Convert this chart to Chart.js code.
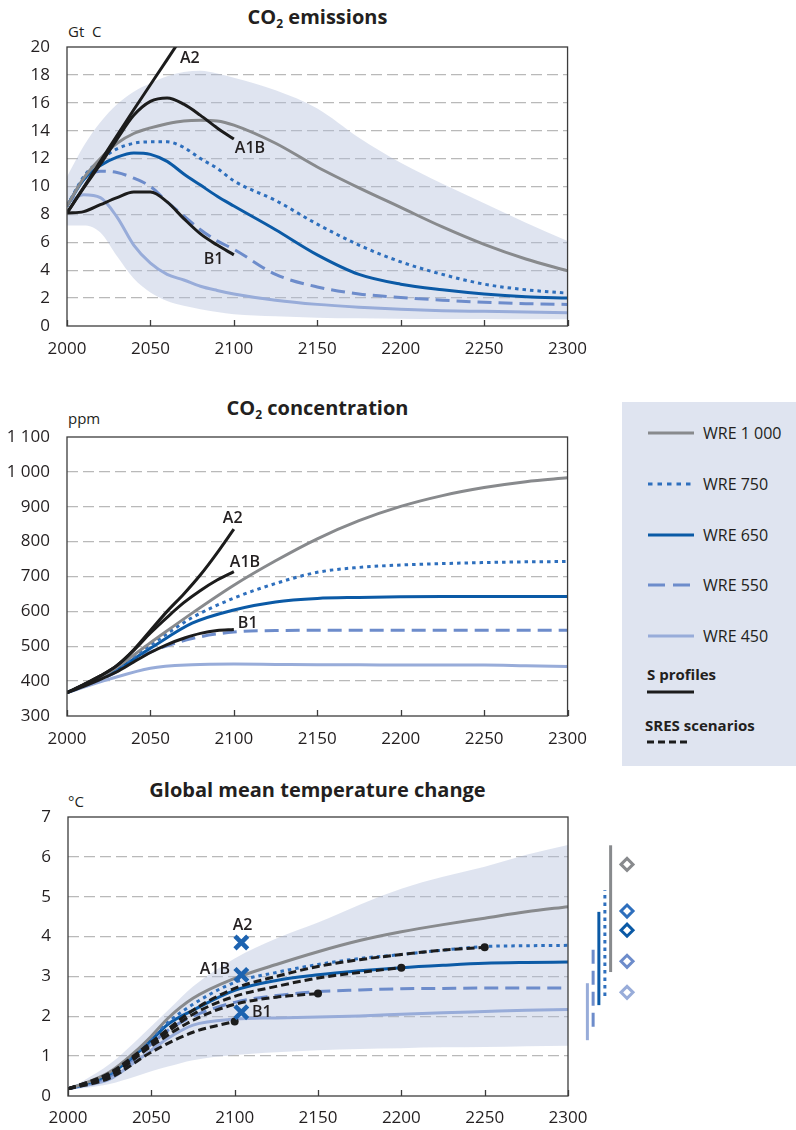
<!DOCTYPE html>
<html>
<head>
<meta charset="utf-8">
<script src="https://cdn.jsdelivr.net/npm/chart.js@4.4.1/dist/chart.umd.min.js"></script>
<style>
body { margin: 0; background: #fff; font-family: 'Open Sans', sans-serif; color: #231f20; }
#page { position: relative; width: 796px; height: 1130px; overflow: hidden; }
canvas { position: absolute; left: 0; }
.title { position: absolute; left: 67px; width: 501px; text-align: center; font-weight: 700; font-size: 20px; line-height: 24px; }
.title sub { font-size: 12px; vertical-align: -4px; line-height: 0; }
.unit { position: absolute; left: 68px; font-size: 15px; line-height: 18px; }
#legend { position: absolute; left: 622px; top: 402px; width: 174px; height: 364px; background: #dfe4f0; }
#legend .row { position: absolute; left: 26px; height: 20px; display: flex; align-items: center; font-size: 16px; }
#legend .row span { margin-left: 9px; }
#legend .head { position: absolute; font-size: 15px; font-weight: 700; line-height: 20px; }
#legend svg { display: block; }
</style>
</head>
<body>
<div id="page">
  <div class="title" style="top:5px">CO<sub>2</sub> emissions</div>
  <div class="unit" style="top:22px">Gt&nbsp; C</div>
  <canvas id="emis" width="600" height="348" style="top:17px"></canvas>

  <div class="title" style="top:396px">CO<sub>2</sub> concentration</div>
  <div class="unit" style="top:409px">ppm</div>
  <canvas id="conc" width="600" height="348" style="top:407px"></canvas>

  <div class="title" style="top:778px">Global mean temperature change</div>
  <div class="unit" style="top:792px">°C</div>
  <canvas id="temp" width="600" height="343" style="top:787px"></canvas>
  <canvas id="equil" width="100" height="343" style="top:787px;left:568px"></canvas>

  <div id="legend"></div>
</div>
<script>
// ---- series names (WRE stabilisation profiles) ----
var wreNames = ['WRE 1 000', 'WRE 750', 'WRE 650', 'WRE 550', 'WRE 450'];

// ---- CO2 emissions, Gt C ----
var emisYears = [2000, 2010, 2020, 2030, 2040, 2050, 2060, 2070, 2080, 2090, 2100, 2125, 2150, 2175, 2200, 2225, 2250, 2275, 2300];
var emisWre1000 = [8.6, 10.6, 12.0, 13.1, 13.8, 14.2, 14.5, 14.7, 14.75, 14.7, 14.4, 13.1, 11.4, 9.9, 8.5, 7.1, 5.85, 4.8, 3.95];
var emisWre750 = [8.6, 10.7, 11.9, 12.7, 13.1, 13.2, 13.2, 12.8, 12.0, 11.3, 10.4, 9.0, 7.3, 5.8, 4.6, 3.7, 3.0, 2.6, 2.35];
var emisWre650 = [8.6, 10.5, 11.5, 12.1, 12.4, 12.3, 11.8, 10.9, 10.1, 9.3, 8.6, 6.9, 5.1, 3.7, 3.0, 2.6, 2.3, 2.1, 2.0];
var emisWre550 = [8.6, 10.5, 11.1, 11.0, 10.6, 10.0, 8.9, 7.9, 6.9, 6.1, 5.5, 3.7, 2.8, 2.3, 2.05, 1.85, 1.7, 1.6, 1.55];
var emisWre450 = [8.8, 9.4, 9.2, 7.8, 5.8, 4.5, 3.7, 3.3, 2.85, 2.55, 2.3, 1.85, 1.55, 1.35, 1.2, 1.1, 1.05, 1.0, 0.95];
var emisBandHigh = [10.7, 12.9, 14.6, 15.9, 16.8, 17.4, 17.9, 18.2, 18.3, 18.1, 17.8, 16.9, 15.6, 13.5, 11.7, 10.2, 8.8, 7.4, 6.1];
var emisBandLow = [7.2, 7.2, 6.7, 5.0, 3.4, 2.4, 1.8, 1.45, 1.2, 1.0, 0.85, 0.7, 0.6, 0.55, 0.52, 0.5, 0.5, 0.48, 0.48];
var emisA2Years = [2000, 2020, 2040, 2060, 2070];
var emisA2 = [8.1, 11.8, 15.5, 19.1, 20.9];
var emisSresYears = [2000, 2010, 2020, 2030, 2040, 2050, 2060, 2070, 2080, 2090, 2100];
var emisA1B = [8.1, 9.9, 11.6, 13.4, 15.1, 16.1, 16.35, 15.9, 15.1, 14.2, 13.4];
var emisB1 = [8.1, 8.2, 8.7, 9.2, 9.6, 9.6, 8.9, 7.7, 6.6, 5.8, 5.1];

// ---- CO2 concentration, ppm ----
var concYears = [2000, 2025, 2050, 2075, 2100, 2125, 2150, 2175, 2200, 2225, 2250, 2275, 2300];
var concWre1000 = [367, 425, 510, 595, 675, 745, 808, 860, 901, 932, 955, 972, 983];
var concWre750 = [367, 422, 503, 582, 638, 680, 712, 726, 733, 737, 740, 742, 743];
var concWre650 = [367, 420, 494, 566, 604, 627, 637, 640, 642, 643, 643, 643, 643];
var concWre550 = [367, 415, 483, 522, 541, 545, 546, 546, 546, 546, 546, 546, 546];
var concWre450 = [367, 405, 437, 447, 449, 448, 447, 447, 446, 446, 446, 444, 442];
var concSresYears = [2000, 2010, 2020, 2030, 2040, 2050, 2060, 2070, 2080, 2090, 2100];
var concA2 = [367, 390, 415, 445, 490, 545, 600, 650, 705, 768, 836];
var concA1B = [367, 390, 415, 445, 488, 538, 583, 625, 660, 690, 714];
var concB1 = [367, 385, 405, 427, 455, 482, 505, 523, 537, 545, 548];

// ---- global mean temperature change, degC ----
var tempYears = [2000, 2010, 2025, 2040, 2050, 2060, 2075, 2100, 2125, 2150, 2175, 2200, 2225, 2250, 2275, 2300];
var tempWre1000 = [0.18, 0.32, 0.6, 1.1, 1.5, 1.95, 2.45, 2.95, 3.3, 3.62, 3.9, 4.12, 4.3, 4.46, 4.62, 4.75];
var tempWre750 = [0.18, 0.3, 0.55, 1.05, 1.45, 1.85, 2.3, 2.85, 3.1, 3.3, 3.45, 3.55, 3.66, 3.75, 3.77, 3.78];
var tempWre650 = [0.18, 0.3, 0.55, 1.02, 1.4, 1.8, 2.15, 2.65, 2.9, 3.04, 3.14, 3.22, 3.28, 3.33, 3.35, 3.36];
var tempWre550 = [0.18, 0.28, 0.5, 0.95, 1.3, 1.65, 2.0, 2.35, 2.52, 2.62, 2.66, 2.69, 2.7, 2.71, 2.71, 2.71];
var tempWre450 = [0.18, 0.26, 0.42, 0.85, 1.15, 1.45, 1.78, 1.93, 1.96, 1.98, 2.01, 2.05, 2.09, 2.12, 2.15, 2.17];
var tempBandHigh = [0.18, 0.4, 0.8, 1.35, 1.75, 2.15, 2.75, 3.45, 3.95, 4.35, 4.8, 5.2, 5.5, 5.75, 6.05, 6.3];
var tempBandLow = [0.15, 0.2, 0.3, 0.48, 0.62, 0.74, 0.9, 1.03, 1.1, 1.15, 1.18, 1.2, 1.22, 1.23, 1.25, 1.26];
var sresYears = [2000, 2025, 2050, 2075, 2100, 2125, 2150, 2175, 2200, 2225, 2250];
var sres450 = [0.18, 0.45, 1.1, 1.6, 1.87];
var sres550 = [0.18, 0.5, 1.25, 1.9, 2.3, 2.48, 2.57];
var sres650 = [0.18, 0.55, 1.3, 2.05, 2.5, 2.75, 2.96, 3.1, 3.22];
var sres750 = [0.18, 0.58, 1.35, 2.15, 2.7, 3.0, 3.25, 3.42, 3.55, 3.66, 3.73];
var sresMarkYear = 2104;
var sresMarkNames = ['A2', 'A1B', 'B1'];
var sresMarkTemp = [3.85, 3.04, 2.1];
// equilibrium ranges and best guesses, on the strip right of 2300
var eqRangeYear = [2324.6, 2320.4, 2316, 2311.8, 2307.6];
var eqRangeLow = [3.11, 2.51, 2.28, 1.74, 1.40];
var eqRangeHigh = [6.29, 5.16, 4.62, 3.71, 2.83];
var eqBestYear = 2336.6;
var eqBest = [5.81, 4.64, 4.16, 3.38, 2.60];

// ---- styles ----
var wreColors = ['#888a8d', '#2e6fbd', '#0b5aa6', '#6d8ccb', '#98acd9'];
var wreDash = [[], [3.5, 4], [], [14, 7], []];
var black = '#1c1c1c';
var bandColor = 'rgba(175,188,218,0.4)';
var markBlue = '#1d63b0';

Chart.defaults.font.family = "'Open Sans', sans-serif";
Chart.defaults.color = '#231f20';

function xy(xs, ys) {
    return ys.map(function(v, i) { return {x: xs[i], y: v}; });
}

function line(label, xs, ys, color, dash, order) {
    return {
        label: label, data: xy(xs, ys),
        borderColor: color, borderWidth: 3, borderDash: dash,
        pointRadius: 0, fill: false, cubicInterpolationMode: 'monotone',
        order: order
    };
}

function band(xs, high, low) {
    return [{
        label: 'band high', data: xy(xs, high), borderColor: 'rgba(0,0,0,0)',
        backgroundColor: bandColor, fill: '+1', pointRadius: 0,
        cubicInterpolationMode: 'monotone', order: 10
    }, {
        label: 'band low', data: xy(xs, low), borderColor: 'rgba(0,0,0,0)',
        fill: false, pointRadius: 0, cubicInterpolationMode: 'monotone', order: 10
    }];
}

function wreLines(xs, series) {
    return series.map(function(ys, i) {
        return line(wreNames[i], xs, ys, wreColors[i], wreDash[i], 1 + i);
    });
}

// frame, inner x tick marks and text labels
var framePlugin = {
    id: 'frame',
    afterDatasetsDraw: function(chart, args, opts) {
        var a = chart.chartArea, ctx = chart.ctx, xs = chart.scales.x, ys = chart.scales.y;
        ctx.save();
        ctx.strokeStyle = '#3c3c3c';
        ctx.lineWidth = 1.3;
        ctx.strokeRect(a.left, a.top, a.right - a.left, a.bottom - a.top);
        xs.ticks.forEach(function(t) {
            var px = Math.round(xs.getPixelForValue(t.value)) + 0.5;
            ctx.beginPath();
            ctx.moveTo(px, a.bottom);
            ctx.lineTo(px, a.bottom - 6);
            ctx.stroke();
        });
        ctx.fillStyle = '#231f20';
        ctx.font = "600 16px 'Open Sans', sans-serif";
        ctx.textBaseline = 'middle';
        (opts.labels || []).forEach(function(l) {
            ctx.textAlign = l.align;
            ctx.fillText(l.text, xs.getPixelForValue(l.x), ys.getPixelForValue(l.y));
        });
        ctx.restore();
    }
};

function options(yMin, yMax, yStep, yWidth, xHeight, xPad, padRight, labels, yFormat) {
    return {
        responsive: false,
        animation: false,
        layout: {padding: {top: 30, right: padRight, left: 0, bottom: 0}},
        plugins: {legend: {display: false}, tooltip: {enabled: false}, frame: {labels: labels}},
        scales: {
            x: {
                type: 'linear', min: 2000, max: 2300,
                grid: {display: false, drawTicks: false},
                border: {display: false},
                ticks: {stepSize: 50, padding: xPad, autoSkip: false, maxRotation: 0,
                        font: {size: 17}, callback: function(v) { return String(v); }},
                afterFit: function(s) { s.height = xHeight; }
            },
            y: {
                min: yMin, max: yMax,
                grid: {
                    drawTicks: false, lineWidth: 1.3,
                    color: function(c) {
                        return (c.tick.value === yMin || c.tick.value === yMax) ? 'rgba(0,0,0,0)' : '#b9b9b9';
                    }
                },
                border: {display: false, dash: [11, 5]},
                ticks: {stepSize: yStep, padding: 17, font: {size: 17},
                        callback: yFormat || function(v) { return String(v); }},
                afterFit: function(s) { s.width = yWidth; }
            }
        }
    };
}

// ---- chart 1: emissions ----
var emisData = [
    line('A2', emisA2Years, emisA2, black, [], 0),
    line('A1B', emisSresYears, emisA1B, black, [], 0),
    line('B1', emisSresYears, emisB1, black, [], 0)
].concat(wreLines(emisYears, [emisWre1000, emisWre750, emisWre650, emisWre550, emisWre450]))
 .concat(band(emisYears, emisBandHigh, emisBandLow));

new Chart(document.getElementById('emis'), {
    type: 'line',
    data: {datasets: emisData},
    options: options(0, 20, 2, 67, 39, 13, 32, [
        {text: 'A2', x: 2067.7, y: 19.2, align: 'left'},
        {text: 'A1B', x: 2100.6, y: 12.7, align: 'left'},
        {text: 'B1', x: 2082, y: 4.75, align: 'left'}
    ]),
    plugins: [framePlugin]
});

// ---- chart 2: concentration ----
var concData = [
    line('A2', concSresYears, concA2, black, [], 0),
    line('A1B', concSresYears, concA1B, black, [], 0),
    line('B1', concSresYears, concB1, black, [], 0)
].concat(wreLines(concYears, [concWre1000, concWre750, concWre650, concWre550, concWre450]));

new Chart(document.getElementById('conc'), {
    type: 'line',
    data: {datasets: concData},
    options: options(300, 1100, 100, 67, 39, 13, 32, [
        {text: 'A2', x: 2093.4, y: 867, align: 'left'},
        {text: 'A1B', x: 2097.6, y: 741, align: 'left'},
        {text: 'B1', x: 2102.4, y: 566, align: 'left'}
    ], function(v) {
        return v >= 1000 ? String(v).replace(/(\d)(\d{3})$/, '$1 $2') : String(v);
    }),
    plugins: [framePlugin]
});

// ---- chart 3: temperature ----
function sresLine(ys) {
    var d = line('SRES', sresYears, ys, black, [8, 4], 0);
    d.pointRadius = function(c) { return c.dataIndex === ys.length - 1 ? 4 : 0; };
    d.pointBackgroundColor = black;
    d.pointBorderWidth = 0;
    return d;
}

var tempData = [{
    label: 'SRES 2100', data: sresMarkTemp.map(function(v) { return {x: sresMarkYear, y: v}; }),
    showLine: false, pointStyle: 'crossRot', pointRadius: 9, borderWidth: 4.5,
    borderColor: markBlue, order: -1
}].concat([sresLine(sres750), sresLine(sres650), sresLine(sres550), sresLine(sres450)])
  .concat(wreLines(tempYears, [tempWre1000, tempWre750, tempWre650, tempWre550, tempWre450]))
  .concat(band(tempYears, tempBandHigh, tempBandLow));

new Chart(document.getElementById('temp'), {
    type: 'line',
    data: {datasets: tempData},
    options: options(0, 7, 1, 68, 34, 12, 32, [
        {text: 'A2', x: 2104.7, y: 4.29, align: 'center'},
        {text: 'A1B', x: 2097.2, y: 3.18, align: 'right'},
        {text: 'B1', x: 2110.4, y: 2.09, align: 'left'}
    ]),
    plugins: [framePlugin]
});

// strip right of the temperature plot: equilibrium range bars and best guesses
var eqData = [];
wreNames.forEach(function(n, i) {
    eqData.push({
        label: n + ' range',
        data: [{x: eqRangeYear[i], y: eqRangeLow[i]}, {x: eqRangeYear[i], y: eqRangeHigh[i]}],
        borderColor: wreColors[i], borderWidth: 3, borderDash: wreDash[i],
        pointRadius: 0
    });
    eqData.push({
        label: n + ' best',
        data: [{x: eqBestYear, y: eqBest[i]}],
        showLine: false, pointStyle: 'rectRot', pointRadius: 6, borderWidth: 3,
        borderColor: wreColors[i], pointBackgroundColor: '#fff'
    });
});

new Chart(document.getElementById('equil'), {
    type: 'line',
    data: {datasets: eqData},
    options: {
        responsive: false,
        animation: false,
        layout: {padding: {top: 30, right: 0, left: 0, bottom: 34}},
        plugins: {legend: {display: false}, tooltip: {enabled: false}},
        scales: {
            x: {type: 'linear', min: 2300, max: 2360, display: false},
            y: {min: 0, max: 7, display: false}
        }
    }
});

// ---- legend ----
var legendDash = ['', '4.5 5', '', '17 8', ''];
var lg = document.getElementById('legend');
function sample(color, dash, w) {
    return '<svg width="' + w + '" height="6"><line x1="0" y1="3" x2="' + w + '" y2="3" stroke="' + color +
        '" stroke-width="3.2"' + (dash ? ' stroke-dasharray="' + dash + '"' : '') + '/></svg>';
}
var html = '';
wreNames.forEach(function(n, i) {
    html += '<div class="row" style="top:' + (21 + i * 50.75) + 'px">' +
        sample(wreColors[i], legendDash[i], 46) + '<span>' + n + '</span></div>';
});
html += '<div class="head" style="left:25px;top:262px">S profiles</div>';
html += '<div style="position:absolute;left:25px;top:287px">' + sample(black, '', 47) + '</div>';
html += '<div class="head" style="left:23px;top:313px">SRES scenarios</div>';
html += '<div style="position:absolute;left:25px;top:337px">' + sample(black, '7 4', 44) + '</div>';
lg.innerHTML = html;
</script>
</body>
</html>
